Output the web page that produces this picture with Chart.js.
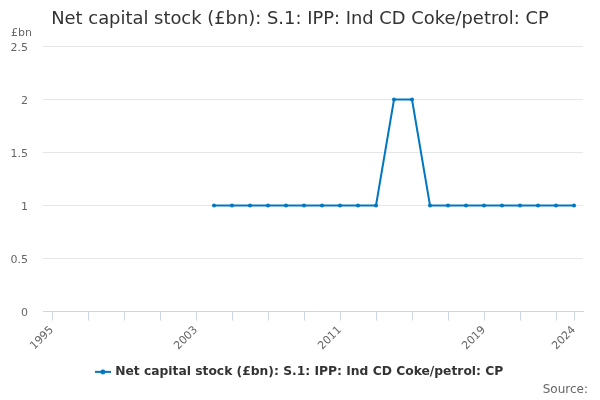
<!DOCTYPE html>
<html lang="en">
<head>
    <meta charset="UTF-8">
    <title>Net capital stock (£bn): S.1: IPP: Ind CD Coke/petrol: CP</title>
    <script src="https://cdn.jsdelivr.net/npm/chart.js@4.4.1/dist/chart.umd.min.js"></script>
    <style>
        body { margin: 0; background: #fff; }
        .chart-container { width: 600px; height: 400px; position: relative; }
    </style>
</head>
<body>
    <div class="chart-container">
        <canvas id="chart"></canvas>
    </div>

    <script>
        const years = [];
        for (let y = 1995; y <= 2024; y++) years.push(String(y));

        // values in £bn, nothing published before 2004
        const netStock = [
            null, null, null, null, null, null, null, null, null,
            1, 1, 1, 1, 1, 1, 1, 1, 1, 1,
            2, 2,
            1, 1, 1, 1, 1, 1, 1, 1, 1
        ];

        const seriesName = 'Net capital stock (£bn): S.1: IPP: Ind CD Coke/petrol: CP';
        const lineColor = '#0077c0';
        const FONT = '"DejaVu Sans", sans-serif';

        // legend symbol: short line with a dot in the middle
        const legendIcon = document.createElement('canvas');
        legendIcon.width = 16;
        legendIcon.height = 8;
        const ic = legendIcon.getContext('2d');
        ic.strokeStyle = lineColor;
        ic.lineWidth = 2;
        ic.beginPath();
        ic.moveTo(0, 4);
        ic.lineTo(16, 4);
        ic.stroke();
        ic.fillStyle = lineColor;
        ic.beginPath();
        ic.arc(8, 4, 2.5, 0, Math.PI * 2);
        ic.fill();

        const extraText = {
            id: 'extraText',
            afterDraw(chart) {
                const ctx = chart.ctx;
                ctx.save();
                ctx.fillStyle = '#666';
                ctx.font = '11px ' + FONT;
                ctx.textBaseline = 'middle';
                ctx.textAlign = 'left';
                ctx.fillText('£bn', 11, 33);
                ctx.font = '12px ' + FONT;
                ctx.textAlign = 'right';
                ctx.fillText('Source:', 588, 390);
                ctx.restore();
            }
        };

        const last = years.length - 1;

        new Chart(document.getElementById('chart'), {
            type: 'line',
            data: {
                labels: years,
                datasets: [{
                    label: seriesName,
                    data: netStock,
                    borderColor: lineColor,
                    backgroundColor: lineColor,
                    borderWidth: 2,
                    pointRadius: 2,
                    pointBorderWidth: 0,
                    pointHoverRadius: 3,
                    pointStyle: 'circle',
                    tension: 0,
                    spanGaps: false
                }]
            },
            options: {
                responsive: true,
                maintainAspectRatio: false,
                animation: false,
                layout: { padding: { left: 0, right: 0, top: 0, bottom: 12 } },
                plugins: {
                    title: {
                        display: true,
                        text: seriesName,
                        color: '#333',
                        font: { family: FONT, size: 17.9, weight: 'normal' },
                        padding: { top: 9, bottom: 16 }
                    },
                    legend: {
                        position: 'bottom',
                        labels: {
                            usePointStyle: true,
                            pointStyle: legendIcon,
                            color: '#333',
                            font: { family: FONT, size: 12.3, weight: 'bold' },
                            padding: 10
                        }
                    },
                    tooltip: { enabled: false }
                },
                scales: {
                    x: {
                        offset: true,
                        grid: {
                            drawOnChartArea: false,
                            offset: false,
                            tickLength: 9,
                            tickColor: ctx => (ctx.index % 2 === 0 || ctx.index === last) ? '#ccd6eb' : 'rgba(0,0,0,0)'
                        },
                        border: { color: '#ccd6eb' },
                        ticks: {
                            autoSkip: false,
                            maxRotation: 45,
                            minRotation: 45,
                            color: '#666',
                            font: { family: FONT, size: 11 },
                            callback: function (value, index) {
                                return (index % 8 === 0 || index === last) ? years[index] : '';
                            }
                        }
                    },
                    y: {
                        min: 0,
                        max: 2.5,
                        afterFit: scale => { scale.width = 43; },
                        grid: { color: '#e6e6e6', drawTicks: false },
                        border: { display: false },
                        ticks: {
                            stepSize: 0.5,
                            padding: 15,
                            labelOffset: 1.5,
                            color: '#666',
                            font: { family: FONT, size: 11 },
                            callback: v => v
                        }
                    },
                    // empty right-hand axis, only reserves the right margin
                    yRight: {
                        position: 'right',
                        afterFit: scale => { scale.width = 17; },
                        grid: { display: false },
                        border: { display: false },
                        ticks: { display: false }
                    }
                }
            },
            plugins: [extraText]
        });
    </script>
</body>
</html>
